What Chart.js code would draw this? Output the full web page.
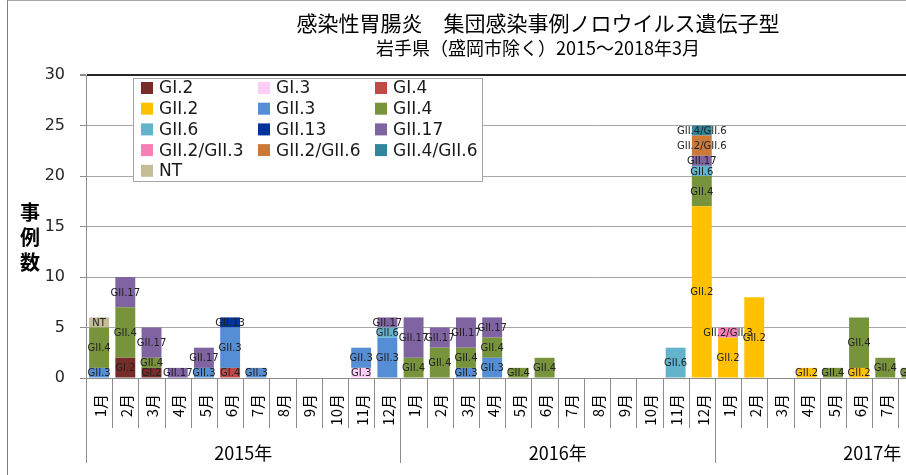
<!DOCTYPE html>
<html lang="ja">
<head>
<meta charset="utf-8">
<title>ノロウイルス遺伝子型</title>
<script src="https://cdn.jsdelivr.net/npm/chart.js@4/dist/chart.umd.min.js"></script>
<style>
  html, body { margin: 0; padding: 0; background: #fff; }
  #wrap { position: relative; width: 906px; height: 475px; overflow: hidden; }
  #frame { position: absolute; left: 7px; top: 0; width: 1200px; height: 600px;
           border-left: 1px solid #7f7f7f; border-top: 1px solid #a6a6a6; }
  .ttl { position: absolute; left: 0; width: 1076px; text-align: center; color: #000;
         font-family: "Noto Sans CJK JP", sans-serif; white-space: nowrap; }
  #t1 { top: 8px; font-size: 21px; line-height: 28px; }
  #t2 { top: 35px; font-size: 18px; line-height: 24px; }
  #chartSigma { position: absolute; left: 0; top: 0; }
</style>
</head>
<body>
<div id="wrap">
  <div id="frame"></div>
  <canvas id="chartSigma" width="1120" height="475"></canvas>
  <div class="ttl" id="t1">感染性胃腸炎　集団感染事例ノロウイルス遺伝子型</div>
  <div class="ttl" id="t2">岩手県（盛岡市除く）2015～2018年3月</div>
</div>
<script>
// 月・年ラベル（2015年1月〜2018年3月）
const months = [
  "1月","2月","3月","4月","5月","6月","7月","8月","9月","10月","11月","12月",
  "1月","2月","3月","4月","5月","6月","7月","8月","9月","10月","11月","12月",
  "1月","2月","3月","4月","5月","6月","7月","8月","9月","10月","11月","12月",
  "1月","2月","3月"
];
const years = ["2015年", "2016年", "2017年", "2018年"];
const yTicks = [0, 5, 10, 15, 20, 25, 30];

// 遺伝子型ごとの事例数（2017年9月以降は画像外のため null）
const gI2 = [
  0,2,1,0,0,0,0,0,0,0,0,0,
  0,0,0,0,0,0,0,0,0,0,0,0,
  0,0,0,0,0,0,0,0,null,null,null,null,
  null,null,null
];
const gI3 = [
  0,0,0,0,0,0,0,0,0,0,1,0,
  0,0,0,0,0,0,0,0,0,0,0,0,
  0,0,0,0,0,0,0,0,null,null,null,null,
  null,null,null
];
const gI4 = [
  0,0,0,0,0,1,0,0,0,0,0,0,
  0,0,0,0,0,0,0,0,0,0,0,0,
  0,0,0,0,0,0,0,0,null,null,null,null,
  null,null,null
];
const gII2 = [
  0,0,0,0,0,0,0,0,0,0,0,0,
  0,0,0,0,0,0,0,0,0,0,0,17,
  4,8,0,1,0,1,0,0,null,null,null,null,
  null,null,null
];
const gII3 = [
  1,0,0,0,1,4,1,0,0,0,2,4,
  0,0,1,2,0,0,0,0,0,0,0,0,
  0,0,0,0,0,0,0,0,null,null,null,null,
  null,null,null
];
const gII4 = [
  4,5,1,0,0,0,0,0,0,0,0,0,
  2,3,2,2,1,2,0,0,0,0,0,3,
  0,0,0,0,1,5,2,1,null,null,null,null,
  null,null,null
];
const gII6 = [
  0,0,0,0,0,0,0,0,0,0,0,1,
  0,0,0,0,0,0,0,0,0,0,3,1,
  0,0,0,0,0,0,0,0,null,null,null,null,
  null,null,null
];
const gII13 = [
  0,0,0,0,0,1,0,0,0,0,0,0,
  0,0,0,0,0,0,0,0,0,0,0,0,
  0,0,0,0,0,0,0,0,null,null,null,null,
  null,null,null
];
const gII17 = [
  0,3,3,1,2,0,0,0,0,0,0,1,
  4,2,3,2,0,0,0,0,0,0,0,1,
  0,0,0,0,0,0,0,0,null,null,null,null,
  null,null,null
];
const gII2_3 = [
  0,0,0,0,0,0,0,0,0,0,0,0,
  0,0,0,0,0,0,0,0,0,0,0,0,
  1,0,0,0,0,0,0,0,null,null,null,null,
  null,null,null
];
const gII2_6 = [
  0,0,0,0,0,0,0,0,0,0,0,0,
  0,0,0,0,0,0,0,0,0,0,0,2,
  0,0,0,0,0,0,0,0,null,null,null,null,
  null,null,null
];
const gII4_6 = [
  0,0,0,0,0,0,0,0,0,0,0,0,
  0,0,0,0,0,0,0,0,0,0,0,1,
  0,0,0,0,0,0,0,0,null,null,null,null,
  null,null,null
];
const nt = [
  1,0,0,0,0,0,0,0,0,0,0,0,
  0,0,0,0,0,0,0,0,0,0,0,0,
  0,0,0,0,0,0,0,0,null,null,null,null,
  null,null,null
];

const seriesNames = [
  "GI.2","GI.3","GI.4",
  "GII.2","GII.3","GII.4",
  "GII.6","GII.13","GII.17",
  "GII.2/GII.3","GII.2/GII.6","GII.4/GII.6",
  "NT"
];
const seriesData = [gI2, gI3, gI4, gII2, gII3, gII4, gII6, gII13, gII17, gII2_3, gII2_6, gII4_6, nt];
const seriesColors = [
  "#772c2a","#ffccf8","#be4b48",
  "#ffc000","#558ed5","#77933c",
  "#62b4cc","#003399","#8064a2",
  "#f77eb6","#cc7a3a","#31859c",
  "#c4bd97"
];

const GRID = "#a6a6a6";
const AXIS = "#8c8c8c";

// ラベル：各セグメントの中央に遺伝子型名
const segLabels = {
  id: "segLabels",
  afterDatasetsDraw(chart) {
    const ctx = chart.ctx;
    ctx.save();
    ctx.font = "10px 'DejaVu Sans'";
    ctx.fillStyle = "#222";
    ctx.textAlign = "center";
    ctx.textBaseline = "middle";
    chart.data.datasets.forEach((ds, di) => {
      const meta = chart.getDatasetMeta(di);
      meta.data.forEach((el, i) => {
        const v = ds.data[i];
        if (!v) return;
        ctx.fillText(ds.label, el.x, (el.y + el.base) / 2 + 1);
      });
    });
    ctx.restore();
  }
};

// X軸：月ラベル（縦書き回転）、年ラベル、区切り線
const monthAxis = {
  id: "monthAxis",
  afterDraw(chart) {
    const ctx = chart.ctx;
    const xs = chart.scales.x;
    const area = chart.chartArea;
    const w = xs.getPixelForValue(1) - xs.getPixelForValue(0);
    const base = area.bottom;
    ctx.save();
    ctx.strokeStyle = AXIS;
    ctx.lineWidth = 1;
    ctx.beginPath();
    ctx.moveTo(area.left, base + 0.5);
    ctx.lineTo(area.right, base + 0.5);
    for (let i = 0; i <= months.length; i++) {
      const x = Math.round(xs.getPixelForValue(i) - w / 2) + 0.5;
      const len = i % 12 === 0 ? 85 : 50;
      ctx.moveTo(x, base);
      ctx.lineTo(x, base + len);
    }
    ctx.stroke();

    ctx.fillStyle = "#000";
    ctx.font = "15px 'Noto Sans CJK JP'";
    ctx.textAlign = "right";
    ctx.textBaseline = "middle";
    months.forEach((m, i) => {
      ctx.save();
      ctx.translate(xs.getPixelForValue(i) + 1, base + 16);
      ctx.rotate(-Math.PI / 2);
      ctx.fillText(m, 0, 0);
      ctx.restore();
    });

    ctx.font = "18px 'Noto Sans CJK JP'";
    ctx.textAlign = "center";
    years.forEach((y, k) => {
      const first = k * 12;
      const last = Math.min(first + 11, months.length - 1);
      const cx = (xs.getPixelForValue(first) + xs.getPixelForValue(last)) / 2;
      ctx.fillText(y, cx, base + 75);
    });

    // Y軸タイトル（縦に一文字ずつ）
    ctx.font = "bold 20px 'Noto Sans CJK JP'";
    const cy = (area.top + area.bottom) / 2;
    ["事", "例", "数"].forEach((c, k) => {
      ctx.fillText(c, 30, cy - 14 + k * 25);
    });
    ctx.restore();
  }
};

// 凡例：プロット内の枠付きボックス
const boxLegend = {
  id: "boxLegend",
  afterDraw(chart) {
    const ctx = chart.ctx;
    const left = 133, top = 78, bw = 349, bh = 103;
    ctx.save();
    ctx.fillStyle = "#fff";
    ctx.fillRect(left, top, bw, bh);
    ctx.strokeStyle = "#a6a6a6";
    ctx.lineWidth = 1;
    ctx.strokeRect(left + 0.5, top + 0.5, bw, bh);
    ctx.font = "17px 'DejaVu Sans'";
    ctx.textBaseline = "middle";
    ctx.textAlign = "left";
    chart.data.datasets.forEach((ds, i) => {
      const col = i % 3, row = Math.floor(i / 3);
      const x = left + 8 + col * 117;
      const y = top + 10 + row * 20.7;
      ctx.fillStyle = ds.backgroundColor;
      ctx.fillRect(x, y - 6, 12, 12);
      ctx.fillStyle = "#1a1a1a";
      ctx.fillText(ds.label, x + 18, y + 1);
    });
    ctx.restore();
  }
};

let chart;

function initChart() {
  const ctx = document.getElementById("chartSigma").getContext("2d");
  chart = new Chart(ctx, {
    type: "bar",
    data: {
      labels: months,
      datasets: seriesNames.map((name, i) => ({
        label: name,
        data: seriesData[i],
        backgroundColor: seriesColors[i],
        borderWidth: 0,
        barPercentage: 1,
        categoryPercentage: 0.76,
      })),
    },
    options: {
      responsive: false,
      devicePixelRatio: 1,
      animation: false,
      layout: { padding: { left: 0, right: 12, top: 75, bottom: 97 } },
      plugins: {
        legend: { display: false },
        title: { display: false },
        tooltip: { enabled: false },
      },
      scales: {
        x: {
          stacked: true,
          display: false,
        },
        y: {
          stacked: true,
          min: 0,
          max: 30,
          afterFit: (s) => { s.width = 86; },
          afterBuildTicks: (s) => { s.ticks = yTicks.map((v) => ({ value: v })); },
          ticks: {
            padding: 15,
            color: "#262626",
            font: { family: "DejaVu Sans", size: 16 },
          },
          grid: {
            color: (c) => (c.tick && c.tick.value === 30 ? "#262626" : GRID),
            lineWidth: (c) => (c.tick && c.tick.value === 30 ? 2 : 1),
            tickLength: 6,
            tickColor: AXIS,
          },
          border: { color: AXIS },
        },
      },
    },
    plugins: [segLabels, monthAxis, boxLegend],
  });
}

initChart();
</script>
</body>
</html>
